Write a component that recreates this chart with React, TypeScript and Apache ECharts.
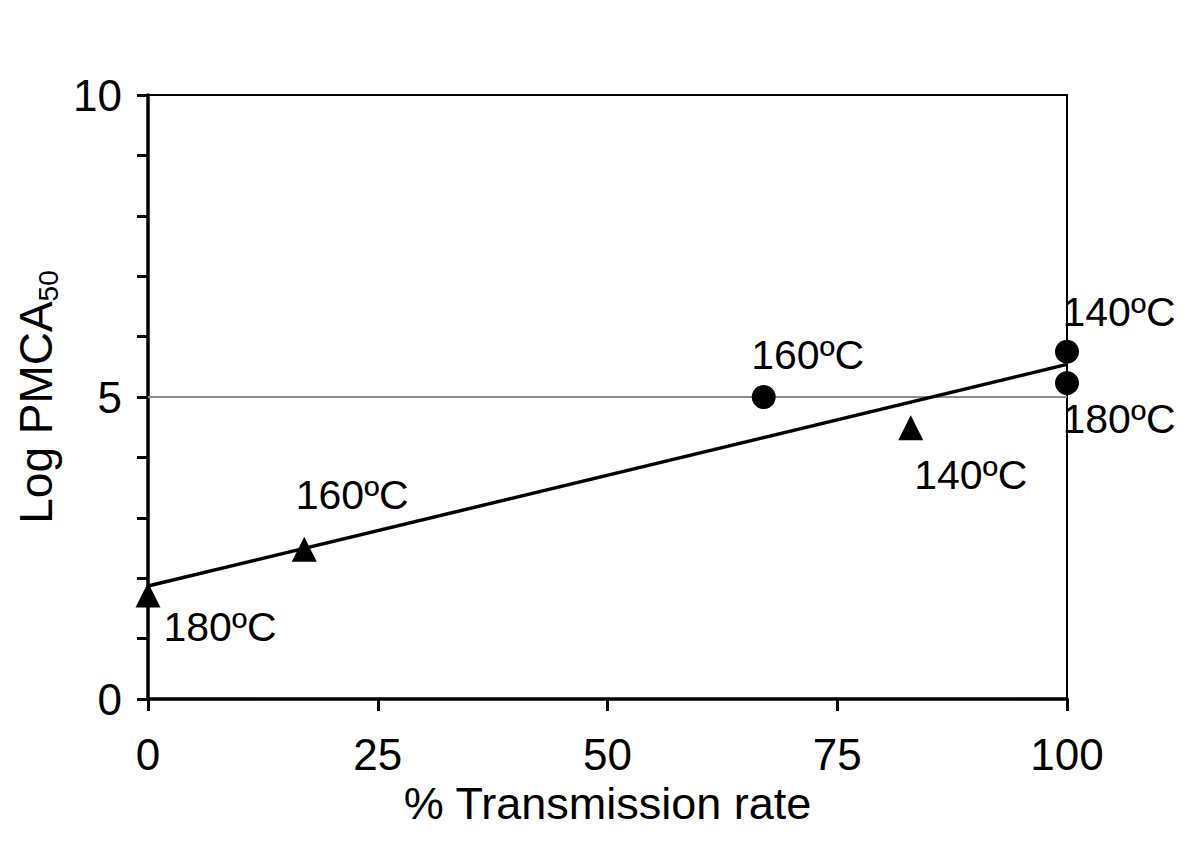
import React, { useEffect, useRef } from "react";
import * as echarts from "echarts";

const xTicks = [0, 25, 50, 75, 100];
const yLabelValues = [0, 5, 10];

// Triangles
const triangleX = [0, 17, 83];
const triangleY = [1.72, 2.48, 4.49];
const triangleLabels = ["180ºC", "160ºC", "140ºC"];

// Circles
const circleX = [67, 100, 100];
const circleY = [5.0, 5.75, 5.23];
const circleLabels = ["160ºC", "140ºC", "180ºC"];

// Trendline endpoints
const trendX = [0, 100];
const trendY = [1.87, 5.54];

// Reference line
const refX = [0, 100];
const refY = [5, 5];

const triangleOffsets = [
  [72, 32],
  [48, -54],
  [60, 47],
];
const circleOffsets = [
  [44, -42],
  [52, -40],
  [52, 36],
];

const FONT = "'Liberation Sans', Arial, sans-serif";

export default function App() {
  const ref = useRef<HTMLDivElement>(null);
  useEffect(() => {
    if (!ref.current) return;
    const chart = echarts.init(ref.current, null, { renderer: "svg" });
    const labelStyle = (off: number[]) => ({
      show: true,
      position: "inside",
      offset: off,
      color: "#000",
      opacity: 1,
      fontSize: 41,
      fontFamily: FONT,
    });
    chart.setOption({
      animation: false,
      backgroundColor: "#fff",
      textStyle: { fontFamily: FONT },
      grid: {
        left: 148,
        right: 133,
        top: 95,
        bottom: 162,
        show: true,
        borderColor: "#000",
        borderWidth: 2,
        backgroundColor: "transparent",
      },
      xAxis: {
        type: "value",
        min: 0,
        max: 100,
        interval: 25,
        name: "% Transmission rate",
        nameLocation: "middle",
        nameGap: 76,
        nameTextStyle: { fontSize: 45, color: "#000", fontFamily: FONT },
        axisLine: { show: true, lineStyle: { color: "#000", width: 3.5 } },
        axisTick: { show: true, inside: false, length: 12, lineStyle: { color: "#000", width: 3 } },
        axisLabel: {
          margin: 33,
          fontSize: 44,
          color: "#000",
          fontFamily: FONT,
          formatter: (v: number) => (xTicks.includes(v) ? String(v) : ""),
        },
        splitLine: { show: false },
      },
      yAxis: {
        type: "value",
        min: 0,
        max: 10,
        interval: 1,
        name: "{a|Log PMCA}{b|50}",
        nameLocation: "middle",
        nameGap: 70,
        nameRotate: 90,
        nameTextStyle: {
          color: "#000",
          fontFamily: FONT,
          rich: {
            a: { fontSize: 46, lineHeight: 52, color: "#000", fontFamily: FONT },
            b: { fontSize: 28, lineHeight: 28, verticalAlign: "bottom", color: "#000", fontFamily: FONT },
          },
        },
        axisLine: { show: true, lineStyle: { color: "#000", width: 3.5 } },
        axisTick: { show: true, inside: false, length: 11, lineStyle: { color: "#000", width: 3 } },
        axisLabel: {
          margin: 26,
          fontSize: 44,
          color: "#000",
          fontFamily: FONT,
          formatter: (v: number) => (yLabelValues.includes(v) ? String(v) : ""),
        },
        splitLine: { show: false },
      },
      series: [
        {
          type: "line",
          data: refX.map((x, i) => [x, refY[i]]),
          showSymbol: false,
          symbol: "none",
          lineStyle: { color: "#8c8c8c", width: 2 },
          silent: true,
          z: 1,
        },
        {
          type: "line",
          data: trendX.map((x, i) => [x, trendY[i]]),
          showSymbol: false,
          symbol: "none",
          lineStyle: { color: "#000", width: 3.5 },
          silent: true,
          z: 2,
        },
        {
          type: "scatter",
          symbol: "triangle",
          symbolSize: 25,
          itemStyle: { color: "#000", opacity: 1 },
          z: 3,
          data: triangleX.map((x, i) => ({
            value: [x, triangleY[i]],
            label: { ...labelStyle(triangleOffsets[i]), formatter: triangleLabels[i] },
          })),
        },
        {
          type: "scatter",
          symbol: "circle",
          symbolSize: 24,
          itemStyle: { color: "#000", opacity: 1 },
          z: 3,
          data: circleX.map((x, i) => ({
            value: [x, circleY[i]],
            label: { ...labelStyle(circleOffsets[i]), formatter: circleLabels[i] },
          })),
        },
      ],
    });
    return () => chart.dispose();
  }, []);
  return (
    <div
      ref={ref}
      style={{ position: "fixed", left: 0, top: 0, width: 1200, height: 861, background: "#fff" }}
    />
  );
}
